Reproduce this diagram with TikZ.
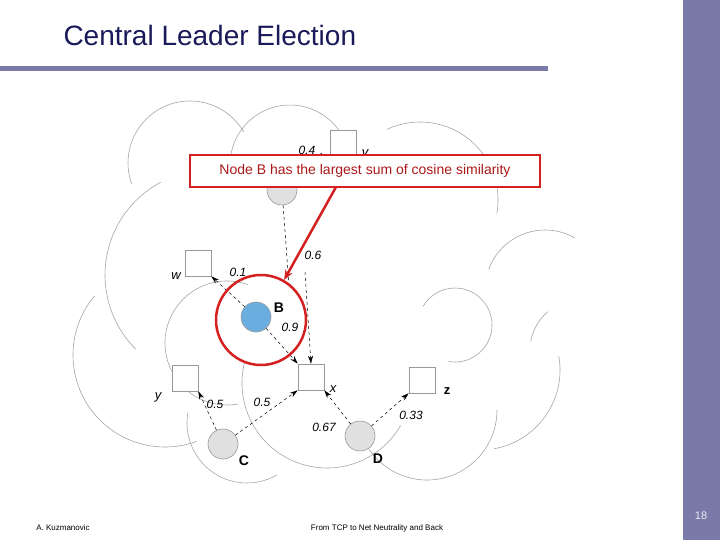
\documentclass[tikz,border=0pt]{standalone}
\usepackage{fontspec}
\setmainfont{Liberation Sans}
\usetikzlibrary{arrows.meta}
\definecolor{bar}{HTML}{7A7AA8}
\definecolor{navy}{HTML}{1A1A5A}
\definecolor{callred}{HTML}{D42020}
\definecolor{nodegray}{HTML}{E0E0E0}
\definecolor{nodeblue}{HTML}{6AAEE0}
\tikzset{
 cloud/.style={draw=gray!70,line width=0.6pt},
 sq/.style={draw=gray!80,fill=white,minimum size=26pt,inner sep=0pt,line width=0.6pt},
 pc/.style={circle,draw=gray!80,fill=nodegray,minimum size=30pt,inner sep=0pt,line width=0.6pt},
 lnk/.style={dashed,line width=0.5pt,-{Stealth[length=8pt,width=5pt]}},
 wt/.style={font=\itshape\fontsize{12}{12}\selectfont},
 nm/.style={font=\itshape\fontsize{13}{13}\selectfont},
 bn/.style={font=\bfseries\fontsize{14}{14}\selectfont},
}
\newcommand{\carc}[5]{\draw[cloud] ($(#1,#2)+(-#4:#3)$) arc[start angle=-#4,end angle=-#5,radius=#3];}
\usetikzlibrary{calc}
\begin{document}
\begin{tikzpicture}[x=1pt,y=-1pt]
\useasboundingbox (0,0) rectangle (720,540);
\fill[white] (0,0) rectangle (720,540);
\fill[bar] (683,0) rectangle (720,540);
\fill[bar] (0,66) rectangle (548,71);
\node[anchor=west,text=navy,font=\fontsize{28}{28}\selectfont] (title) at (60,35) {Central Leader Election};
\node[font=\fontsize{8}{8}\selectfont] (auth) at (63,528) {A. Kuzmanovic};
\node[font=\fontsize{8}{8}\selectfont] (foot) at (377,528) {From TCP to Net Neutrality and Back};
\node[text=white!85!bar,font=\fontsize{11}{11}\selectfont] (pg) at (701,516) {18};
% cloud arcs
\carc{190}{163}{62}{30}{200}
\carc{290}{165}{60}{20}{175}
\carc{420}{200}{78}{-10}{115}
\carc{210}{275}{105}{118}{225}
\carc{165}{355}{92}{140}{290}
\carc{227}{343}{62}{70}{280}
\carc{247}{423}{60}{170}{300}
\carc{327}{383}{85}{165}{330}
\carc{427}{410}{70}{190}{360}
\carc{480}{370}{80}{-80}{10}
\carc{545}{290}{60}{60}{160}
\carc{455}{325}{37}{-100}{150}
\carc{580}{350}{50}{130}{170}
% nodes
\node[pc] (A) at (282,190) {};
\node[sq] (v) at (343,143) {};
\node[sq] (w) at (198,263) {};
\node[pc,fill=nodeblue] (B) at (256,317) {};
\node[sq] (x) at (311,377) {};
\node[sq] (y) at (185,378) {};
\node[sq] (z) at (422,380) {};
\node[pc] (C) at (223,444) {};
\node[pc] (D) at (360,436) {};
% labels
\node[nm] (lv) at (365,153) {v};
\node[nm] (lw) at (176,276) {w};
\node[bn] (lB) at (279,308) {B};
\node[nm] (lx) at (333,389) {x};
\node[nm] (ly) at (158,397) {y};
\node[font=\bfseries\fontsize{13}{13}\selectfont] (lz) at (447,391) {z};
\node[bn] (lC) at (244,461) {C};
\node[bn] (lD) at (378,459) {D};
% links
\coordinate (vt) at (322,153);
\draw[lnk] (A) -- (vt);
\node[wt] at (307,150) {0.4};
\coordinate (bt) at (289,286);
\draw[dashed,line width=0.5pt] (A) -- (bt);
\coordinate (sixs) at (305,272);
\draw[lnk] (sixs) -- (x.north);
\node[wt] at (313,255) {0.6};
\draw[lnk] (B) -- (w.south east);
\node[wt] at (238,272) {0.1};
\draw[lnk] (B) -- (x.north west);
\node[wt] at (290,327) {0.9};
\draw[lnk] (C) -- (y.south east);
\node[wt] at (215,404) {0.5};
\draw[lnk] (C) -- (x.south west);
\node[wt] at (262,402) {0.5};
\draw[lnk] (D) -- (x.south east);
\node[wt] at (324,427) {0.67};
\draw[lnk] (D) -- (z.south west);
\node[wt] at (411,415) {0.33};
% callout
\node[draw=callred,line width=2.5pt,fill=white,text=callred!80!black,minimum width=350pt,minimum height=32pt,inner sep=2pt,font=\fontsize{14}{14}\selectfont] (call) at (365,171) {Node B has the largest sum of cosine similarity};
\node[circle,draw=callred,line width=2.5pt,minimum size=90pt] (ring) at (261,320) {};
\coordinate (cs) at (336,187);
\draw[callred,line width=2.5pt,-{Stealth[length=10pt,width=8pt]}] (cs) -- (ring.60);
\end{tikzpicture}
\end{document}
